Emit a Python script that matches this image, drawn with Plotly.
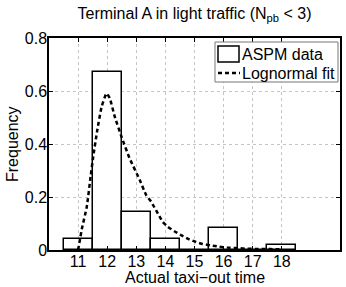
import plotly.graph_objects as go

# Histogram data
bins = [11, 12, 13, 14, 15, 16, 17, 18]
freq = [0.041, 0.673, 0.143, 0.041, 0.0, 0.082, 0.0, 0.020]

# Lognormal fit curve
fit_x = [11.0, 11.13, 11.3, 11.43, 11.52, 11.66, 11.81, 11.98, 12.09, 12.26, 12.49,
         12.77, 13.12, 13.34, 13.51, 13.74, 13.91, 14.08, 14.31, 14.54, 14.82, 15.05,
         15.28, 15.56, 15.85, 16.13, 16.42, 16.76, 17.10, 17.44, 17.78, 18.0]
fit_y = [0.0, 0.08, 0.164, 0.277, 0.352, 0.453, 0.541, 0.591, 0.572, 0.503, 0.428,
         0.346, 0.264, 0.207, 0.182, 0.138, 0.106, 0.088, 0.071, 0.056, 0.040, 0.030,
         0.0225, 0.0175, 0.0125, 0.009, 0.0075, 0.005, 0.004, 0.004, 0.003, 0.0025]

x_ticks = [11, 12, 13, 14, 15, 16, 17, 18]
y_ticks = [0, 0.2, 0.4, 0.6, 0.8]
y_labels = ["0", "0.2", "0.4", "0.6", "0.8"]
legend_names = ["ASPM data", "Lognormal fit"]

FONT = "Liberation Sans, Arial, Helvetica, sans-serif"
W, H = 346, 287
L, R, T, B = 49, 6, 38, 37
PW, PH = W - L - R, H - T - B


def px(x):
    return (x - L) / PW


def py(y):
    return (H - B - y) / PH


fig = go.Figure()
fig.add_trace(go.Bar(
    x=bins, y=freq, width=1.0, name=legend_names[0], showlegend=False,
    marker=dict(color="white", line=dict(color="black", width=1.5)),
))
fig.add_trace(go.Scatter(
    x=fit_x, y=fit_y, mode="lines", name=legend_names[1], showlegend=False,
    line=dict(color="black", width=2.5, dash="4px,3px", shape="spline", smoothing=0.5),
))

shapes = [
    # legend box
    dict(type="rect", xref="paper", yref="paper", x0=px(215), x1=px(338), y0=py(82), y1=py(42),
         line=dict(color="#777777", width=1), fillcolor="white", layer="above"),
    # bar swatch
    dict(type="rect", xref="paper", yref="paper", x0=px(218), x1=px(239), y0=py(62), y1=py(46),
         line=dict(color="black", width=1.5), fillcolor="white", layer="above"),
    # dashed line swatch
    dict(type="line", xref="paper", yref="paper", x0=px(218), x1=px(240), y0=py(73), y1=py(73),
         line=dict(color="black", width=2.5, dash="4px,3px"), layer="above"),
]

annotations = [
    dict(text="Actual taxi\u2212out time", xref="paper", yref="paper",
         x=0.5, y=py(277), xanchor="center", yanchor="middle",
         showarrow=False, font=dict(size=16)),
    dict(text="Frequency", xref="paper", yref="paper",
         x=px(12), y=0.5, xanchor="center", yanchor="middle",
         textangle=-90, showarrow=False, font=dict(size=16)),
    dict(text=legend_names[0], xref="paper", yref="paper", x=px(240), y=py(54),
         xanchor="left", yanchor="middle", showarrow=False, font=dict(size=16)),
    dict(text=legend_names[1], xref="paper", yref="paper", x=px(240), y=py(73),
         xanchor="left", yanchor="middle", showarrow=False, font=dict(size=16)),
]

fig.update_layout(
    width=W, height=H,
    margin=dict(l=L, r=R, t=T, b=B, autoexpand=False),
    paper_bgcolor="white", plot_bgcolor="white",
    font=dict(family=FONT, size=16, color="black"),
    title=dict(text="Terminal A in light traffic (N<sub>pb</sub> < 3)",
               x=0.5, xref="paper", xanchor="center", y=1 - 13 / H, yanchor="middle",
               yref="container", font=dict(size=16)),
    showlegend=False,
    bargap=0,
    shapes=shapes,
    annotations=annotations,
)
fig.update_xaxes(
    range=[10, 20], tickvals=x_ticks, ticktext=[str(v) for v in x_ticks],
    showgrid=True, gridcolor="#c4c4c4", griddash="dot", gridwidth=1,
    showline=True, linecolor="black", linewidth=1.5, mirror="ticks",
    ticks="inside", ticklen=4, tickcolor="black", zeroline=False,
    automargin=False, ticklabelstandoff=-4,
)
fig.update_yaxes(
    range=[0, 0.8], tickvals=y_ticks, ticktext=y_labels,
    showgrid=True, gridcolor="#c4c4c4", griddash="dot", gridwidth=1,
    showline=True, linecolor="black", linewidth=1.5, mirror="ticks",
    ticks="inside", ticklen=4, tickcolor="black", zeroline=False,
    automargin=False, ticklabelstandoff=-3,
)

fig.write_html("out.html", config={"responsive": False, "displayModeBar": False},
               post_script="document.body.style.margin='0';document.body.style.padding='0';")
